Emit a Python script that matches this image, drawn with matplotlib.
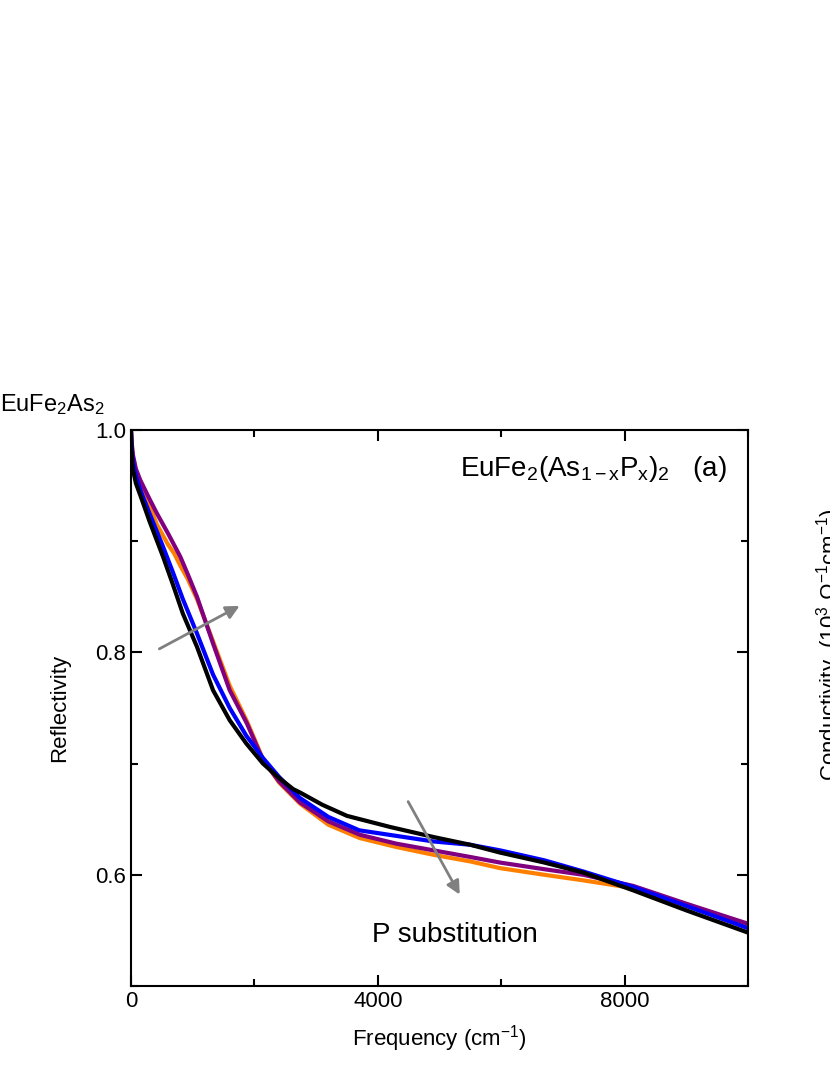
import matplotlib
matplotlib.use("Agg")
import matplotlib.pyplot as plt
from matplotlib.ticker import MultipleLocator

plt.rcParams['font.family'] = ['Liberation Sans', 'DejaVu Sans']
plt.rcParams['mathtext.fontset'] = 'custom'
plt.rcParams['mathtext.rm'] = 'Liberation Sans'
plt.rcParams['mathtext.it'] = 'Liberation Sans:italic'
plt.rcParams['mathtext.default'] = 'regular'

freq_black = [0, 10, 30, 80, 160, 300, 520, 680, 840, 1070, 1330, 1600, 1870, 2140, 2400, 2630, 2740, 3100, 3500, 4200, 4900, 5500, 5980, 6700, 7330, 8140, 9000, 10000]
R_black = [1.0, 0.98, 0.965, 0.952, 0.94, 0.918, 0.886, 0.861, 0.835, 0.805, 0.766, 0.739, 0.718, 0.70, 0.687, 0.677, 0.674, 0.663, 0.653, 0.643, 0.634, 0.627, 0.620, 0.611, 0.602, 0.586, 0.568, 0.548]

freq_blue = [0, 10, 30, 80, 160, 300, 520, 680, 840, 1070, 1330, 1600, 1870, 2140, 2400, 2740, 3200, 3700, 4300, 4900, 5500, 5980, 6700, 7330, 8140, 9000, 10000]
R_blue = [1.0, 0.985, 0.972, 0.958, 0.945, 0.925, 0.895, 0.872, 0.848, 0.817, 0.78, 0.75, 0.725, 0.705, 0.688, 0.669, 0.652, 0.64, 0.635, 0.630, 0.627, 0.622, 0.613, 0.603, 0.589, 0.572, 0.552]

freq_orange = [0, 10, 30, 80, 150, 300, 420, 600, 700, 800, 920, 1070, 1330, 1600, 1880, 2140, 2400, 2740, 3200, 3710, 4300, 4900, 5500, 5980, 6700, 7330, 8140, 9000, 10000]
R_orange = [1.0, 0.988, 0.975, 0.962, 0.952, 0.932, 0.915, 0.897, 0.889, 0.878, 0.866, 0.848, 0.81, 0.77, 0.738, 0.704, 0.683, 0.664, 0.645, 0.633, 0.625, 0.618, 0.612, 0.606, 0.600, 0.595, 0.588, 0.572, 0.554]

freq_purple = [0, 10, 30, 80, 150, 300, 420, 600, 800, 930, 1070, 1330, 1600, 1880, 2140, 2400, 2740, 3200, 3710, 4300, 4900, 5500, 5980, 6700, 7330, 8140, 9000, 10000]
R_purple = [1.0, 0.99, 0.978, 0.965, 0.955, 0.938, 0.925, 0.907, 0.886, 0.869, 0.85, 0.808, 0.766, 0.736, 0.703, 0.684, 0.665, 0.648, 0.636, 0.628, 0.622, 0.616, 0.611, 0.605, 0.600, 0.590, 0.574, 0.556]

fig = plt.figure(figsize=(8.3, 10.75), dpi=100)
ax = fig.add_axes([0.1578, 0.0828, 0.7434, 0.5172])

ax.plot(freq_orange, R_orange, color='#ff8000', lw=3)
ax.plot(freq_purple, R_purple, color='#800080', lw=3)
ax.plot(freq_blue, R_blue, color='#0000ff', lw=3)
ax.plot(freq_black, R_black, color='black', lw=3)

ax.set_xlim(0, 10000)
ax.set_ylim(0.5, 1.0)
ax.xaxis.set_major_locator(MultipleLocator(4000))
ax.xaxis.set_minor_locator(MultipleLocator(2000))
ax.yaxis.set_minor_locator(MultipleLocator(0.1))
ax.set_yticks([0.6, 0.8, 1.0])
ax.set_yticklabels(['0.6', '0.8', '1.0'])
ax.tick_params(which='both', direction='in', top=True, right=True, labelsize=16, width=1.5)
ax.tick_params(which='major', length=8)
ax.tick_params(which='minor', length=5)
for s in ax.spines.values():
    s.set_linewidth(1.5)

ax.set_xlabel('Frequency (cm$^{-1}$)', fontsize=16, labelpad=8)
ax.set_ylabel('Reflectivity', fontsize=16, labelpad=18)

ax.annotate('', xy=(1800, 0.843), xytext=(420, 0.802),
            arrowprops=dict(arrowstyle='-|>', color='gray', lw=2, mutation_scale=20))
ax.annotate('', xy=(5350, 0.580), xytext=(4470, 0.668),
            arrowprops=dict(arrowstyle='-|>', color='gray', lw=2, mutation_scale=20))

ax.text(5250, 0.546, 'P substitution', fontsize=20, ha='center', va='center')
ax.text(9650, 0.965, r'EuFe$_2$(As$_{1-x}$P$_x$)$_2$   (a)', fontsize=20, ha='right', va='center')

fig.text(0.0, 0.618, r'EuFe$_2$As$_2$', fontsize=17, ha='left', va='baseline')
fig.text(0.999, 0.40, r'Conductivity  (10$^3$ $\Omega^{-1}$cm$^{-1}$)', fontsize=16,
         rotation=90, ha='center', va='center')

fig.savefig('out.png', dpi=100)
